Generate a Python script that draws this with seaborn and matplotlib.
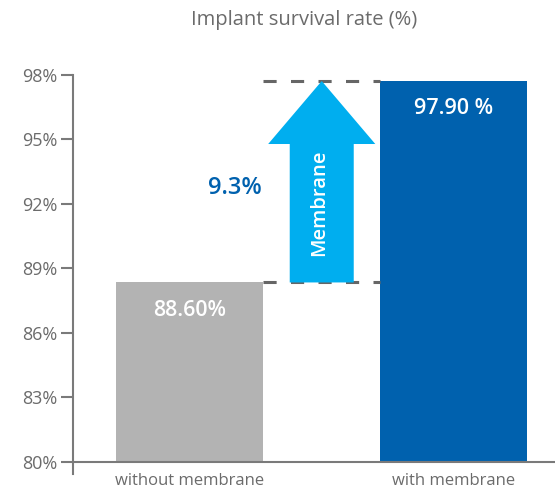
import seaborn as sns
import matplotlib.pyplot as plt


# -------------------------------------------------
# DATA
# -------------------------------------------------
categories = ["without membrane", "with membrane"]
survival = [88.35, 97.72]
bar_labels = ["88.60%", "97.90 %"]
gain_label = "9.3%"
arrow_label = "Membrane"
y_ticks = [80, 83, 86, 89, 92, 95, 98]

# -------------------------------------------------
# STYLE
# -------------------------------------------------
GRAY_BAR = "#b3b3b3"
BLUE_BAR = "#0061ae"
ARROW = "#00aeef"
TEXT_GRAY = "#6b6b6b"
AXIS_GRAY = "#7a7a7a"
BASE = 80

sns.set_style("white")
plt.rcParams["font.family"] = ["Open Sans", "DejaVu Sans"]

fig = plt.figure(figsize=(5.55, 4.92), dpi=100)
ax = fig.add_axes([73 / 555, 18 / 492, 482 / 555, 399 / 492])

sns.barplot(
    x=categories,
    y=survival,
    hue=categories,
    palette=[GRAY_BAR, BLUE_BAR],
    saturation=1,
    width=0.556,
    legend=False,
    ax=ax,
)

# bars start at the 80% baseline
for patch in ax.patches:
    top = patch.get_y() + patch.get_height()
    patch.set_y(BASE)
    patch.set_height(top - BASE)
    patch.set_linewidth(0)

ax.set_xlim(-0.4405, 1.382)
ax.set_ylim(79.44, 98.0)

# axes styling
for side in ["top", "right", "bottom"]:
    ax.spines[side].set_visible(False)
ax.spines["left"].set_color(AXIS_GRAY)
ax.spines["left"].set_linewidth(1.5)
ax.spines["left"].set_bounds(79.44, 98.0)
ax.axhline(BASE, color=AXIS_GRAY, lw=1.5, zorder=3)

ax.set_yticks(y_ticks)
ax.set_yticklabels([f"{t}%" for t in y_ticks], fontsize=13, color=TEXT_GRAY)
ax.tick_params(axis="y", length=8.5, width=1.5, color=AXIS_GRAY, pad=3, left=True)
ax.tick_params(axis="x", length=0, pad=-0.5, labelsize=12, labelcolor=TEXT_GRAY)
ax.set_xlabel("")
ax.set_ylabel("")

# bar value labels
for i, (val, lab) in enumerate(zip(survival, bar_labels)):
    ax.text(i, val - 1.3, lab, ha="center", va="center",
            color="white", fontsize=15.5, fontweight="semibold")

# dashed guide lines between bars
half = 0.556 / 2
for val in survival:
    ax.hlines(val, half, 1 - half, colors="#666666", linestyles=(0, (4.3, 4.7)),
              lw=2.2, clip_on=False, zorder=1)

# arrow showing the gain
ax.arrow(0.5, survival[0], 0, survival[1] - survival[0],
         width=0.242, head_width=0.405, head_length=2.93,
         length_includes_head=True, color=ARROW, lw=0, zorder=2, clip_on=False)
ax.text(0.49, 92.07, arrow_label, rotation=90, ha="center", va="center",
        color="white", fontsize=14.5, fontweight="semibold", zorder=4)

ax.text(0.172, 92.74, gain_label, ha="center", va="center",
        color=BLUE_BAR, fontsize=17, fontweight="semibold")

fig.text(304 / 555, 1 - 20 / 492, "Implant survival rate (%)", ha="center",
         va="center", fontsize=14.5, color=TEXT_GRAY)

plt.savefig("out.png", dpi=100)
